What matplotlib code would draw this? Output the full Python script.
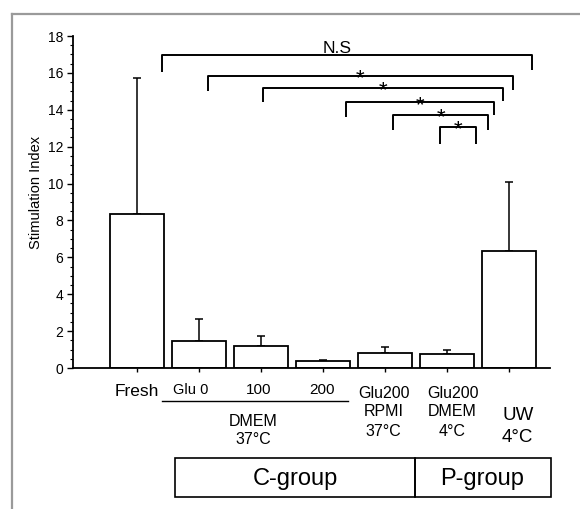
import matplotlib
matplotlib.use("Agg")
import matplotlib.pyplot as plt
from matplotlib.patches import Rectangle
from matplotlib.lines import Line2D
import matplotlib.transforms as mtransforms
import numpy as np

# ---- data ----
categories = ["Fresh", "Glu 0", "100", "200", "Glu200 RPMI 37°C", "Glu200 DMEM 4°C", "UW 4°C"]
means = [8.35, 1.45, 1.2, 0.38, 0.8, 0.74, 6.35]
errors = [7.35, 1.2, 0.53, 0.07, 0.32, 0.21, 3.75]

# significance comparisons: (x_left, x_right, y_bar, left_leg_bottom, right_leg_bottom, label)
comparisons = [
    (0.41, 6.37, 16.97, 16.05, 16.15, "N.S"),
    (1.15, 6.06, 15.83, 15.02, 15.05, "*"),
    (2.03, 5.90, 15.18, 14.43, 14.45, "*"),
    (3.37, 5.76, 14.40, 13.60, 13.72, "*"),
    (4.13, 5.66, 13.70, 12.92, 12.92, "*"),
    (4.89, 5.47, 13.05, 12.15, 12.15, "*"),
]

W, H = 580, 509
fig = plt.figure(figsize=(W / 100, H / 100), dpi=100)
fig.patch.set_facecolor("white")

def fx(px):
    return px / W

def fy(py):
    return 1 - py / H

ax = fig.add_axes([fx(73), fy(368), fx(550) - fx(73), fy(36) - fy(368)])
reg = ["Liberation Sans", "DejaVu Sans"]

x = np.arange(len(categories))
ax.bar(x, means, width=0.87, color="white", edgecolor="black", linewidth=1.3, zorder=2)
ax.errorbar(x, means, yerr=[np.zeros(len(errors)), errors], fmt="none",
            ecolor="black", elinewidth=1.1, capsize=3, capthick=1.1, zorder=1)

ax.set_xlim(-1.03, 6.66)
ax.set_ylim(0, 18)
ax.set_yticks(np.arange(0, 19, 2))
ax.set_yticks(np.arange(0, 18.01, 0.5), minor=True)
ax.set_yticklabels([str(v) for v in range(0, 19, 2)], family=reg, fontsize=10)
ax.set_xticks(x)
ax.set_xticklabels([])
ax.tick_params(axis="y", which="major", length=4, width=1.0, pad=3)
ax.tick_params(axis="y", which="minor", length=2, width=0.8)
ax.tick_params(axis="x", which="major", length=3, width=1.0)
for s in ["top", "right"]:
    ax.spines[s].set_visible(False)
for s in ["left", "bottom"]:
    ax.spines[s].set_linewidth(1.3)

ax.set_ylabel("Stimulation Index", family=reg, fontsize=10.5)
ax.yaxis.set_label_coords(-0.063, 0.53)

# significance brackets
for (x1, x2, yb, l1, l2, lab) in comparisons:
    ax.plot([x1, x1, x2, x2], [l1, yb, yb, l2], color="black", lw=1.4,
            clip_on=False, solid_capstyle="butt")
    xm = (x1 + x2) / 2
    if lab == "*":
        ax.text(xm, yb - 0.45, lab, ha="center", va="baseline",
                family=reg, fontsize=16, clip_on=False)
    else:
        ax.text(3.23, yb - 0.05, lab, ha="center", va="bottom",
                family=reg, fontsize=12.5, clip_on=False)

# category labels below axis
tr = mtransforms.blended_transform_factory(ax.transData, fig.transFigure)
ax.text(0.0, fy(392), categories[0], transform=tr, ha="center", va="center",
        family=reg, fontsize=12.5)
ax.text(0.86, fy(390), categories[1], transform=tr, ha="center", va="center",
        family=reg, fontsize=10.5)
ax.text(1.96, fy(390), categories[2], transform=tr, ha="center", va="center",
        family=reg, fontsize=11)
ax.text(2.99, fy(390), categories[3], transform=tr, ha="center", va="center",
        family=reg, fontsize=11)
ax.add_line(Line2D([0.41, 3.40], [fy(401), fy(401)], transform=tr, color="black",
                   lw=1.0, clip_on=False))
for txt, py in [("DMEM", 422), ("37°C", 439)]:
    ax.text(1.88, fy(py), txt, transform=tr, ha="center", va="center",
            family=reg, fontsize=11.5)
for txt, py in [("Glu200", 393), ("RPMI", 412), ("37°C", 432)]:
    ax.text(3.98, fy(py), txt, transform=tr, ha="center", va="center",
            family=reg, fontsize=11.5)
for txt, py in [("Glu200", 393), ("DMEM", 412), ("4°C", 432)]:
    ax.text(5.09, fy(py), txt, transform=tr, ha="center", va="center",
            family=reg, fontsize=11.5)
for txt, py in [("UW", 415), ("4°C", 438)]:
    ax.text(6.14, fy(py), txt, transform=tr, ha="center", va="center",
            family=reg, fontsize=13.5)

# group boxes
c_left, c_right, p_right = 0.62, 4.49, 6.67
box_b, box_t = fy(497), fy(458)
for (l, r) in [(c_left, c_right), (c_right, p_right)]:
    ax.add_patch(Rectangle((l, box_b), r - l, box_t - box_b, transform=tr,
                           facecolor="none", edgecolor="black", lw=1.2, clip_on=False))
ax.text(2.56, fy(479), "C-group", transform=tr, ha="center", va="center",
        family=reg, fontsize=17)
ax.text(5.57, fy(479), "P-group", transform=tr, ha="center", va="center",
        family=reg, fontsize=17)

# scan border
fig.add_artist(Line2D([fx(12), fx(12)], [0, fy(14)], transform=fig.transFigure,
                      color="#9a9a9a", lw=1.6))
fig.add_artist(Line2D([fx(12), 1], [fy(14), fy(14)], transform=fig.transFigure,
                      color="#9a9a9a", lw=1.6))

fig.savefig("out.png", dpi=100, facecolor="white")
